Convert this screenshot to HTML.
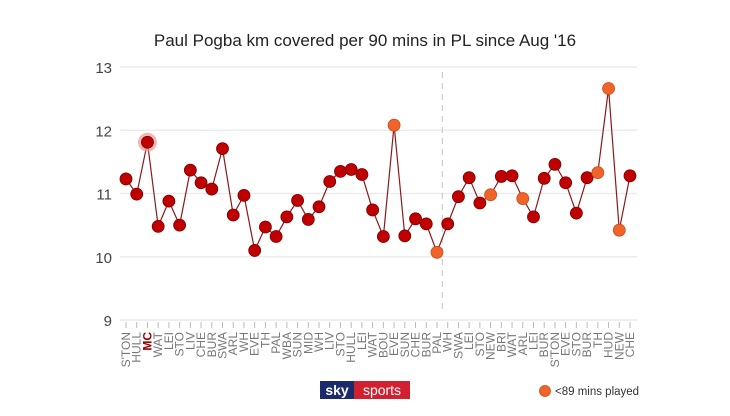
<!DOCTYPE html>
<html><head><meta charset="utf-8"><style>
body{margin:0;background:#fff;width:730px;height:411px;overflow:hidden;font-family:"Liberation Sans",sans-serif}
</style></head><body>
<svg id="chart" width="730" height="411">
<text x="365" y="46" text-anchor="middle" font-size="17" fill="#222">Paul Pogba km covered per 90 mins in PL since Aug '16</text>
<g id="grid"></g><g id="marks"></g><g id="xlabels"></g>
<g>
<rect x="320" y="381" width="34" height="18" fill="#1b2a6b"/>
<rect x="354" y="381" width="56" height="18" fill="#d1202f"/>
<text x="337" y="395" text-anchor="middle" font-size="14" font-weight="bold" fill="#fff">sky</text>
<text x="382" y="395" text-anchor="middle" font-size="14" fill="#fff">sports</text>
</g>
<g>
<circle cx="545" cy="391" r="5.5" fill="#f0642a" stroke="#c84a1e" stroke-width="0.8"/>
<text x="555" y="395" font-size="11.5" fill="#333">&lt;89 mins played</text>
</g>
</svg>
<script>
const categories=["S'TON","HULL","MC","WAT","LEI","STO","LIV","CHE","BUR","SWA","ARL","WH","EVE","TH","PAL","WBA","SUN","MID","WH","LIV","STO","HULL","LEI","WAT","BOU","EVE","SUN","CHE","BUR","PAL","WH","SWA","LEI","STO","NEW","BRI","WAT","ARL","LEI","BUR","S'TON","EVE","STO","BUR","TH","HUD","NEW","CHE"];
const kmValues=[11.23,10.99,11.81,10.48,10.88,10.50,11.37,11.17,11.07,11.71,10.66,10.97,10.10,10.47,10.32,10.63,10.89,10.59,10.79,11.19,11.35,11.38,11.30,10.74,10.32,12.08,10.33,10.60,10.52,10.07,10.52,10.95,11.25,10.85,10.98,11.27,11.28,10.92,10.63,11.24,11.46,11.17,10.69,11.25,11.33,12.66,10.42,11.28];
const partial=[0,0,0,0,0,0,0,0,0,0,0,0,0,0,0,0,0,0,0,0,0,0,0,0,0,1,0,0,0,1,0,0,0,0,1,0,0,1,0,0,0,0,0,0,1,1,1,0];
const yTicks=[9,10,11,12,13];
const NS="http://www.w3.org/2000/svg";
const x=i=>126+i*(504/(categories.length-1));
const y=v=>320-(v-9)*63.25;
function mk(t,a,p){const e=document.createElementNS(NS,t);for(const k in a)e.setAttribute(k,a[k]);p.appendChild(e);return e;}
const grid=document.getElementById('grid'),marks=document.getElementById('marks'),xl=document.getElementById('xlabels');
yTicks.forEach(t=>{
  const l=mk('line',{x1:120,x2:637,y1:y(t),y2:y(t),stroke:'#ececec','stroke-width':1.5},grid);
  
  
  const tx=mk('text',{x:112,y:y(t)+6,'text-anchor':'end','font-size':15,fill:'#444'},grid);
  tx.textContent=t;
  
  
});
const dl=mk('line',{x1:(x(29)+x(30))/2,x2:(x(29)+x(30))/2,y1:72,y2:310,stroke:'#ccc','stroke-dasharray':'6,5','stroke-width':1.2},grid);


const pl=mk('polyline',{points:kmValues.map((v,i)=>x(i)+','+y(v)).join(' '),fill:'none',stroke:'#8b1a1a','stroke-width':1.2},marks);


kmValues.forEach((v,i)=>{
  if(i===2){const h=mk('circle',{cx:x(i),cy:y(v),r:9.5,fill:'#e89a9a',opacity:0.7},marks);}
  const c=mk('circle',{cx:x(i),cy:y(v),r:6,fill:partial[i]?'#f0642a':'#c00000',stroke:partial[i]?'#c84a1e':'#7a0000','stroke-width':0.8},marks);
  
  
  mk('line',{x1:x(i),x2:x(i),y1:322,y2:328,stroke:'#bbb'},xl);
  const t=mk('text',{x:0,y:0,transform:`translate(${x(i)+4},332) rotate(-90)`,'text-anchor':'end','font-size':12,fill:i===2?'#a00000':'#777','font-weight':i===2?'bold':'normal'},xl);
  t.textContent=categories[i];
  
  
});
</script>
</body></html>
